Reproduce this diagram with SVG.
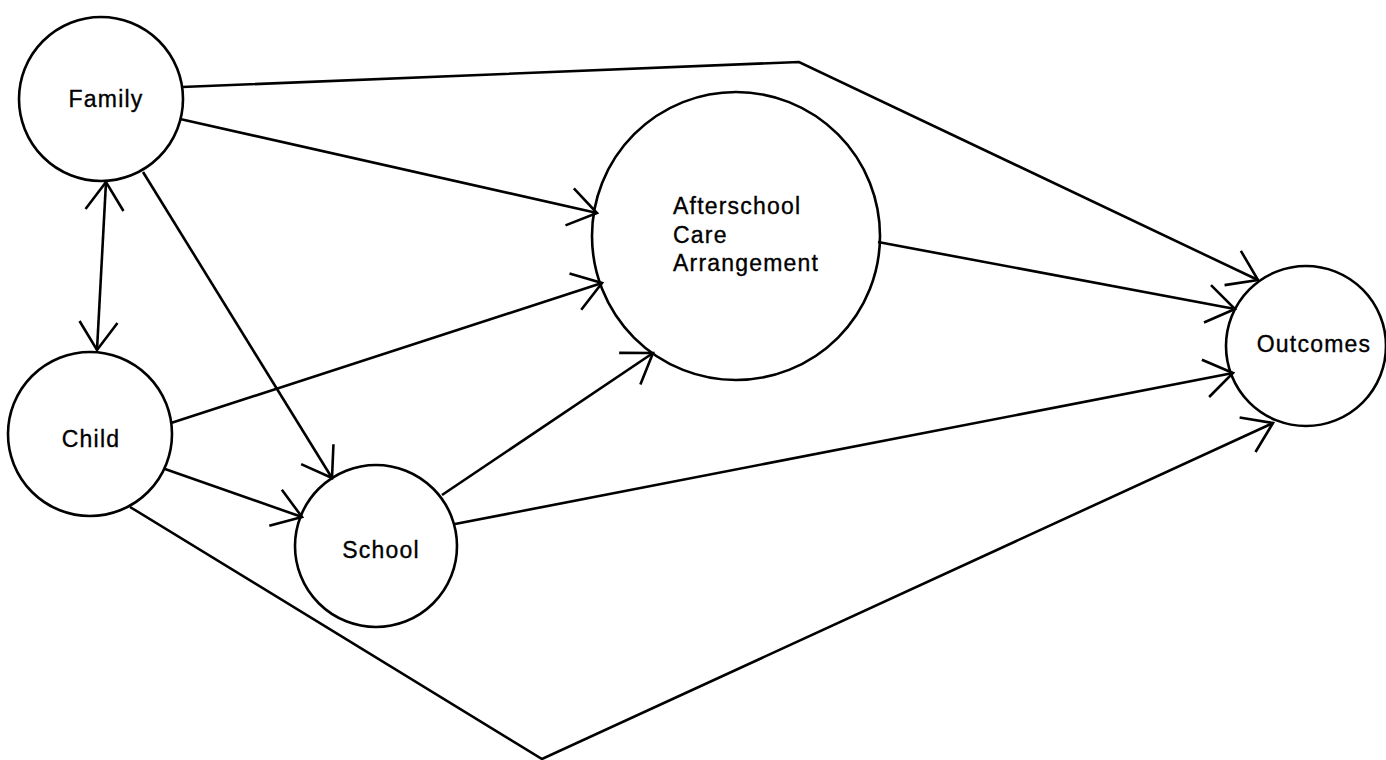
<svg xmlns="http://www.w3.org/2000/svg" width="1386" height="760" viewBox="0 0 1386 760">
<style>
.node{fill:none;stroke:#000;stroke-width:2.6}
.lbl{font-family:"Liberation Sans",Arial,sans-serif;font-size:23px;letter-spacing:1.2px;fill:#000;stroke:#000;stroke-width:0.35}
.c{text-anchor:middle}
.edge{fill:none;stroke:#000;stroke-width:2.6;stroke-linejoin:miter;marker-end:url(#arr)}
</style>
<defs>
<marker id="arr" markerUnits="userSpaceOnUse" markerWidth="40" markerHeight="44" refX="34" refY="22" orient="auto-start-reverse" viewBox="0 0 40 44">
<path d="M6,3 L34,22 L6,41" fill="none" stroke="#000" stroke-width="2.6"/>
</marker>
</defs>
<rect width="1386" height="760" fill="#fff"/>
<g id="connectors">
<polyline class="edge" points="182,87 799,62 1258,280"/>
<line class="edge" x1="180" y1="119" x2="597" y2="213"/>
<line class="edge" x1="143" y1="172" x2="332" y2="478"/>
<line class="edge" x1="106" y1="182" x2="97" y2="350" style="marker-start:url(#arr)"/>
<line class="edge" x1="171" y1="423" x2="602" y2="283"/>
<line class="edge" x1="165" y1="469" x2="302" y2="517"/>
<polyline class="edge" points="130,507 542,759 1273,423"/>
<line class="edge" x1="442" y1="495" x2="653" y2="353"/>
<line class="edge" x1="455" y1="524" x2="1233" y2="373"/>
<line class="edge" x1="878" y1="242" x2="1235" y2="309"/>
</g>
<g id="family">
<circle class="node" cx="101" cy="99" r="82"/>
<text class="lbl c" x="106" y="107">Family</text>
</g>
<g id="child">
<circle class="node" cx="90" cy="434" r="82"/>
<text class="lbl c" x="91" y="447">Child</text>
</g>
<g id="school">
<circle class="node" cx="376" cy="546" r="81"/>
<text class="lbl c" x="381" y="558">School</text>
</g>
<g id="afterschool">
<circle class="node" cx="736" cy="236" r="144"/>
<text class="lbl" x="673" y="214">Afterschool</text>
<text class="lbl" x="673" y="243">Care</text>
<text class="lbl" x="673" y="271">Arrangement</text>
</g>
<g id="outcomes">
<circle class="node" cx="1306" cy="346" r="80"/>
<text class="lbl c" x="1314" y="352">Outcomes</text>
</g>
</svg>
